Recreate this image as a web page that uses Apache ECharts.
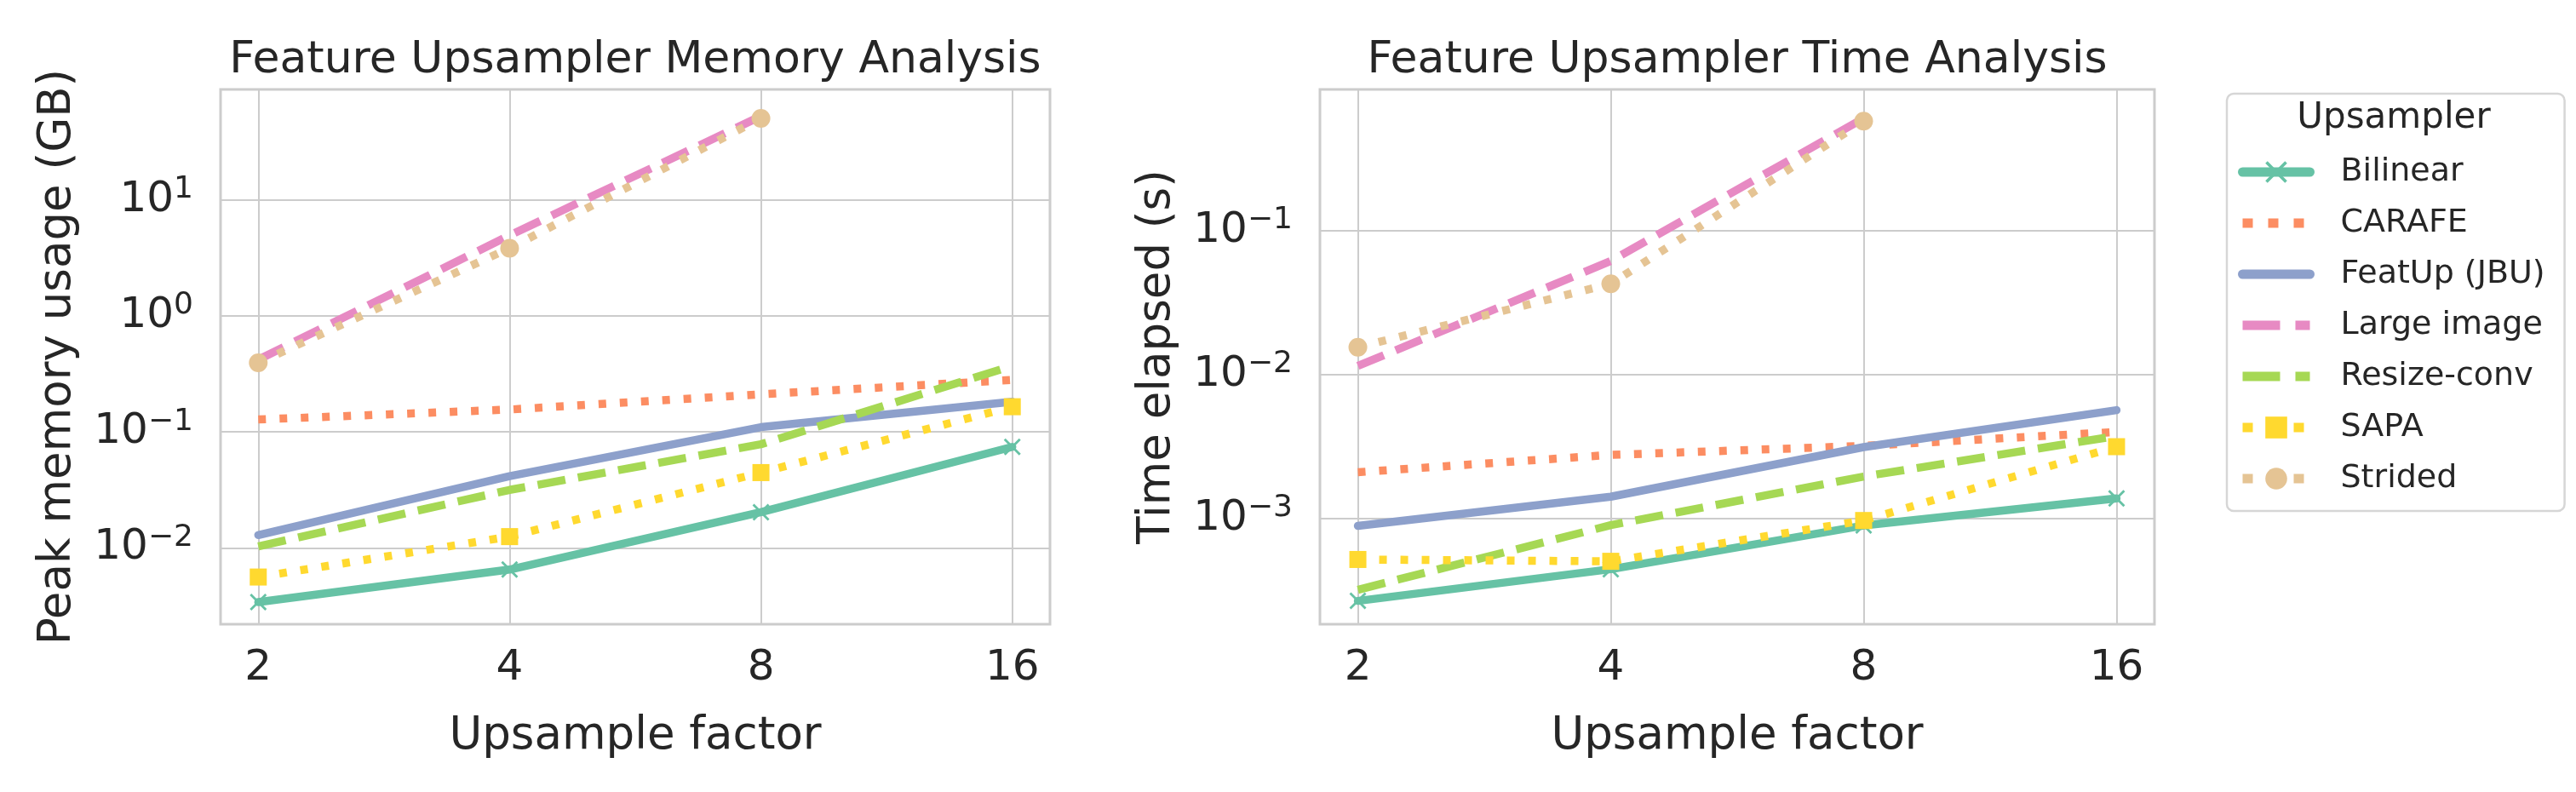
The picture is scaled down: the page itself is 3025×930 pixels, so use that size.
<!DOCTYPE html>
<html>
<head>
<meta charset="utf-8">
<title>Feature Upsampler Memory / Time Analysis</title>
<script src="https://cdn.jsdelivr.net/npm/echarts@6/dist/echarts.min.js"></script>
<style>
  html, body { margin: 0; padding: 0; background: #fff; }
  #container { width: 3025px; height: 930px; }
</style>
</head>
<body>
<div id="container"></div>
<script>
var myChart = echarts.init(document.getElementById("container"));

// upsample factors (x axis, log2)
var factors = [2, 4, 8, 16];
var names = ["Bilinear", "CARAFE", "FeatUp (JBU)", "Large image", "Resize-conv", "SAPA", "Strided"];

// peak memory usage (GB)
var memBilinear = [0.0034, 0.0065, 0.0203, 0.0743];
var memCarafe   = [0.128, 0.156, 0.211, 0.281];
var memFeatup   = [0.0129, 0.0415, 0.110, 0.182];
var memLarge    = [0.42, 4.96, 53.0];
var memResize   = [0.0103, 0.0316, 0.0783, 0.372];
var memSapa     = [0.0056, 0.0125, 0.0446, 0.165];
var memStrided  = [0.395, 3.85, 50.7];

// time elapsed (s)
var timeBilinear = [0.000268, 0.000445, 0.000895, 0.00138];
var timeCarafe   = [0.0021, 0.00277, 0.0032, 0.0040];
var timeFeatup   = [0.00089, 0.00142, 0.00314, 0.00567];
var timeLarge    = [0.0115, 0.0616, 0.605];
var timeResize   = [0.00032, 0.00090, 0.00196, 0.00375];
var timeSapa     = [0.00052, 0.000505, 0.00097, 0.00316];
var timeStrided  = [0.0155, 0.0428, 0.577];

var FONT = "DejaVu Sans";
var INK = "#262626";
var GRID = "#cccccc";

var DOT = [9, 16], DASH = [33, 15];           // in the plots
var LDOT = [12, 18], LDASH = [44, 18];        // in the legend handles
var XMARK = "path://M0,1L1,0L5,4L9,0L10,1L6,5L10,9L9,10L5,6L1,10L0,9L4,5Z";

var styles = {
    "Bilinear":     { color: "#66c2a5", type: "solid", ltype: "solid", symbol: XMARK, size: 20 },
    "CARAFE":       { color: "#fc8d62", type: DOT, ltype: LDOT },
    "FeatUp (JBU)": { color: "#8da0cb", type: "solid", ltype: "solid" },
    "Large image":  { color: "#e78ac3", type: DASH, ltype: LDASH },
    "Resize-conv":  { color: "#a6d854", type: DASH, ltype: LDASH },
    "SAPA":         { color: "#ffd92f", type: DOT, ltype: LDOT, symbol: "rect", size: 20 },
    "Strided":      { color: "#e5c494", type: DOT, ltype: LDOT, symbol: "circle", size: 22 }
};

function pairs(vals) {
    return vals.map(function (v, i) { return [factors[i], v]; });
}

function makeSeries(name, vals, idx) {
    var st = styles[name];
    return {
        name: name,
        type: "line",
        xAxisIndex: idx,
        yAxisIndex: idx,
        data: pairs(vals),
        showSymbol: !!st.symbol,
        symbol: st.symbol || "none",
        symbolSize: st.size || 0,
        itemStyle: { color: st.color, opacity: 1 },
        lineStyle: { color: st.color, width: 9.5, type: st.type, join: "round",
                     cap: st.type === "solid" ? "round" : "butt" },
        emphasis: { disabled: true },
        silent: true
    };
}

function supLabel(v) {
    var e = Math.log10(v);
    var r = Math.round(e);
    if (Math.abs(e - r) > 1e-6) return "";
    var s = r < 0 ? "\u2212" + (-r) : String(r);
    return "{b|10}{s|" + s + "}";
}

function xLabel(v) {
    var r = Math.round(v);
    if (Math.abs(v - r) > 1e-6 || factors.indexOf(r) < 0) return "";
    return String(r);
}

function xAxisOpt(idx) {
    return {
        gridIndex: idx,
        type: "log",
        logBase: 2,
        min: Math.pow(2, 0.85),
        max: Math.pow(2, 4.15),
        name: "Upsample factor",
        nameLocation: "middle",
        nameGap: 106,
        nameTextStyle: { fontFamily: FONT, fontSize: 53, color: INK },
        axisLine: { show: false },
        axisTick: { show: false },
        axisLabel: {
            formatter: xLabel, margin: 27, showMinLabel: false, showMaxLabel: false,
            fontFamily: FONT, fontSize: 50, color: INK
        },
        splitLine: { show: true, showMinLine: false, showMaxLine: false, lineStyle: { color: GRID, width: 2 } },
        minorTick: { show: false },
        minorSplitLine: { show: false }
    };
}

function yAxisOpt(idx, name, lo, hi, gap) {
    return {
        gridIndex: idx,
        type: "log",
        logBase: 10,
        min: Math.pow(10, lo),
        max: Math.pow(10, hi),
        name: name,
        nameLocation: "middle",
        nameRotate: 90,
        nameGap: gap,
        nameTextStyle: { fontFamily: FONT, fontSize: 53, color: INK },
        axisLine: { show: false },
        axisTick: { show: false },
        axisLabel: {
            formatter: supLabel, margin: 32, showMinLabel: false, showMaxLabel: false,
            align: "right",
            rich: {
                b: { fontFamily: FONT, fontSize: 50, color: INK, lineHeight: 60, verticalAlign: "middle" },
                s: { fontFamily: FONT, fontSize: 36, color: INK, lineHeight: 36, verticalAlign: "top" }
            }
        },
        splitLine: { show: true, showMinLine: false, showMaxLine: false, lineStyle: { color: GRID, width: 2 } },
        minorTick: { show: false },
        minorSplitLine: { show: false }
    };
}

var series = [
    makeSeries("Bilinear", memBilinear, 0),
    makeSeries("CARAFE", memCarafe, 0),
    makeSeries("FeatUp (JBU)", memFeatup, 0),
    makeSeries("Large image", memLarge, 0),
    makeSeries("Resize-conv", memResize, 0),
    makeSeries("SAPA", memSapa, 0),
    makeSeries("Strided", memStrided, 0),
    makeSeries("Bilinear", timeBilinear, 1),
    makeSeries("CARAFE", timeCarafe, 1),
    makeSeries("FeatUp (JBU)", timeFeatup, 1),
    makeSeries("Large image", timeLarge, 1),
    makeSeries("Resize-conv", timeResize, 1),
    makeSeries("SAPA", timeSapa, 1),
    makeSeries("Strided", timeStrided, 1)
];

// legend handles: thicker line, marker only where the series has one
var legendData = names.map(function (n) {
    var st = styles[n];
    return {
        name: n,
        itemStyle: st.symbol
            ? { color: st.color, borderWidth: 0, opacity: 1 }
            : { color: "rgba(0,0,0,0)", borderWidth: 0, opacity: 0 },
        lineStyle: { color: st.color, width: 11, type: st.ltype,
                     cap: st.ltype === "solid" ? "round" : "butt", opacity: 1 }
    };
});

myChart.setOption({
    animation: false,
    backgroundColor: "#ffffff",
    title: [
        { text: "Feature Upsampler Memory Analysis", left: 746, top: 45, textAlign: "center", padding: 0,
          textStyle: { fontFamily: FONT, fontSize: 52, fontWeight: "normal", color: INK } },
        { text: "Feature Upsampler Time Analysis", left: 2040, top: 45, textAlign: "center", padding: 0,
          textStyle: { fontFamily: FONT, fontSize: 52, fontWeight: "normal", color: INK } },
        { text: "Upsampler", left: 2811, top: 118, textAlign: "center", padding: 0,
          textStyle: { fontFamily: FONT, fontSize: 42, fontWeight: "normal", color: INK } }
    ],
    legend: {
        orient: "vertical",
        left: 2615,
        top: 110,
        data: legendData,
        itemWidth: 79,
        itemHeight: 32,
        itemGap: 20,
        padding: [72, 23, 18, 13],
        borderColor: "#d6d6d6",
        borderWidth: 2.5,
        borderRadius: 8,
        backgroundColor: "#ffffff",
        selectedMode: false,
        textStyle: { fontFamily: FONT, fontSize: 38, lineHeight: 40, color: INK, padding: [0, 0, 0, 31] }
    },
    grid: [
        { left: 259, top: 105, width: 974, height: 628, show: true, borderColor: GRID, borderWidth: 3,
          backgroundColor: "#ffffff", outerBoundsMode: "none" },
        { left: 1550, top: 105, width: 980, height: 628, show: true, borderColor: GRID, borderWidth: 3,
          backgroundColor: "#ffffff", outerBoundsMode: "none" }
    ],
    xAxis: [xAxisOpt(0), xAxisOpt(1)],
    yAxis: [
        yAxisOpt(0, "Peak memory usage (GB)", -2.659, 1.955, 164),
        yAxisOpt(1, "Time elapsed (s)", -3.734, -0.018, 164)
    ],
    series: series
});
</script>
</body>
</html>
